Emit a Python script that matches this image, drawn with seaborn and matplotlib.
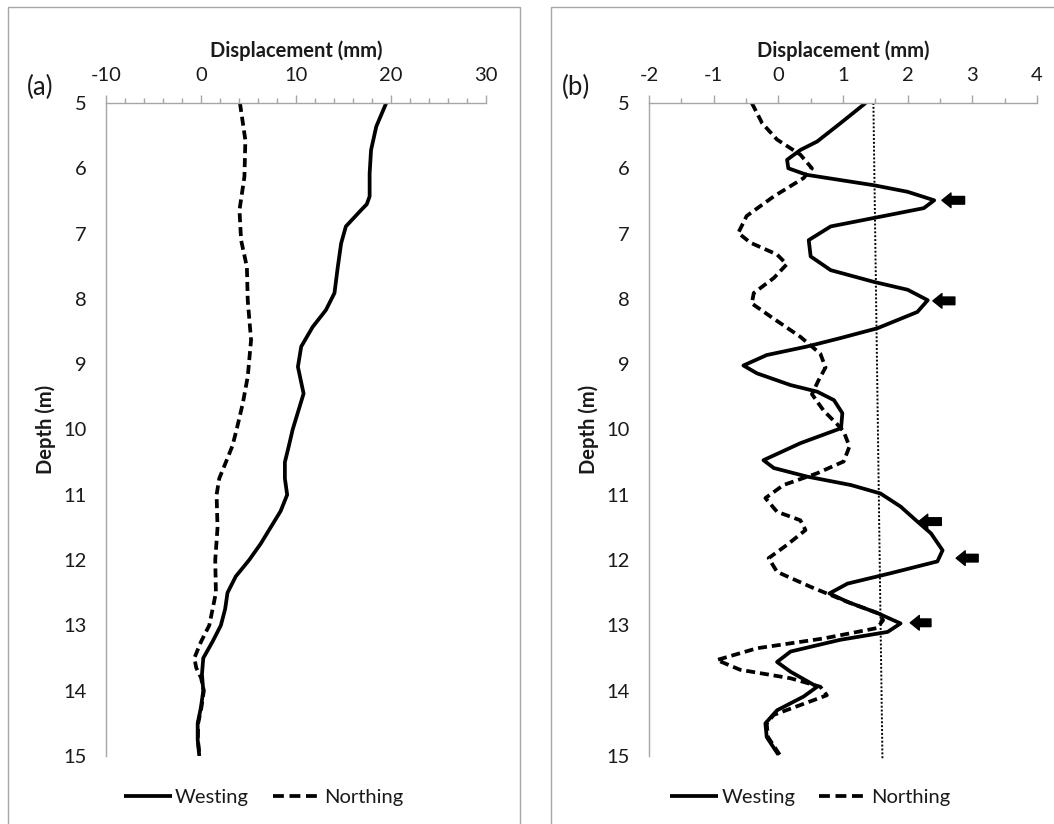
import matplotlib
matplotlib.use("Agg")
import matplotlib.pyplot as plt
import seaborn as sns
from matplotlib.patches import Rectangle
from matplotlib.ticker import MultipleLocator

# ---------------- data ----------------
# Panel (a)
depth_a_west = [5.0, 5.36, 5.72, 6.08, 6.43, 6.55, 6.64, 6.89, 7.15, 7.51, 7.91, 8.17, 8.43, 8.73, 9.04, 9.45, 10.0,
                10.25, 10.5, 10.75, 11.0, 11.25, 11.5, 11.75, 12.0, 12.25, 12.5, 12.75, 13.0, 13.25, 13.5, 13.75,
                14.0, 14.25, 14.5, 14.75, 15.0]
west_a = [19.5, 18.45, 17.9, 17.75, 17.75, 17.45, 16.85, 15.25, 14.75, 14.4, 14.05, 13.15, 11.75, 10.55, 10.2, 10.8, 9.65,
          9.25, 8.83, 8.83, 9.07, 8.38, 7.33, 6.28, 5.06, 3.66, 2.79, 2.54, 2.09, 1.21, 0.24, 0.1,
          0.24, 0.0, -0.35, -0.35, -0.18]
depth_a_north = [5.0, 5.57, 6.13, 6.64, 7.10, 7.51, 8.02, 8.63, 9.19, 9.60, 10.0, 10.25, 10.5, 10.75, 11.0, 11.5,
                 12.0, 12.5, 13.0, 13.25, 13.5, 13.65, 13.8, 14.0, 14.25, 14.5, 14.75, 15.0]
north_a = [4.1, 4.67, 4.57, 4.05, 4.22, 4.83, 4.92, 5.27, 4.92, 4.4, 3.75, 3.31, 2.62, 1.92, 1.64, 1.74,
           1.5, 1.57, 0.87, 0.0, -0.7, -0.5, 0.0, 0.3, 0.05, -0.3, -0.33, -0.15]

# Panel (b)
depth_b_west = [5.0, 5.31, 5.59, 5.72, 5.87, 6.0, 6.10, 6.18, 6.26, 6.36, 6.49, 6.61, 6.76, 6.89, 7.10, 7.35,
                7.56, 7.74, 7.86, 8.02, 8.20, 8.45, 8.60, 8.73, 8.86, 9.02, 9.14, 9.32, 9.42, 9.55, 9.75, 9.98,
                10.21, 10.47, 10.59, 10.72, 10.85, 10.98, 11.18, 11.41, 11.59, 11.85, 12.02, 12.20, 12.36, 12.51,
                12.64, 12.81, 12.97, 13.10, 13.22, 13.40, 13.56, 13.71, 13.94, 14.09, 14.30, 14.50, 14.71, 14.98]
west_b = [1.35, 0.96, 0.60, 0.34, 0.135, 0.155, 0.44, 0.96, 1.48, 2.0, 2.41, 2.25, 1.48, 0.81, 0.47, 0.50,
          0.81, 1.48, 2.0, 2.31, 2.15, 1.53, 0.96, 0.44, -0.18, -0.54, -0.33, 0.19, 0.60, 0.86, 0.99, 0.97,
          0.34, -0.23, -0.07, 0.44, 1.12, 1.58, 1.89, 2.15, 2.36, 2.54, 2.46, 1.74, 1.07, 0.79,
          1.07, 1.53, 1.89, 1.69, 0.96, 0.19, -0.02, 0.19, 0.60, 0.39, -0.02, -0.20, -0.18, 0.0]
depth_b_north = [5.0, 5.31, 5.56, 5.79, 6.0, 6.15, 6.43, 6.73, 6.99, 7.14, 7.32, 7.47, 7.68, 7.91, 8.07, 8.27,
                 8.58, 8.84, 9.05, 9.25, 9.46, 9.71, 9.92, 10.03, 10.26, 10.49, 10.67, 10.85, 11.05, 11.26, 11.39,
                 11.54, 11.77, 11.97, 12.18, 12.41, 12.66, 12.81, 12.92, 13.04, 13.20, 13.35, 13.53, 13.68, 13.81,
                 13.94, 14.07, 14.22, 14.37, 14.50, 14.71, 14.98]
north_b = [-0.41, -0.25, -0.02, 0.34, 0.52, 0.39, -0.07, -0.49, -0.62, -0.43, -0.02, 0.13, -0.07, -0.38, -0.41,
           -0.12, 0.34, 0.65, 0.73, 0.62, 0.52, 0.70, 0.91, 1.01, 1.10, 1.01, 0.60, 0.08, -0.20, -0.02, 0.34,
           0.42, 0.13, -0.15, -0.02, 0.50, 1.12, 1.53, 1.62, 1.53, 0.70, -0.33, -0.95, -0.59, 0.19,
           0.65, 0.75, 0.34, -0.07, -0.18, -0.16, 0.02]

# dotted reference line in (b)
ref_x = [1.47, 1.61]
ref_depth = [5.0, 15.05]

# arrows in (b): tip x, tail x, depth
arrow_tip = [2.53, 2.39, 2.17, 2.75, 2.04]
arrow_tail = [2.88, 2.73, 2.52, 3.09, 2.36]
arrow_depth = [6.49, 8.03, 11.41, 11.97, 12.96]

xticks_a = [-10, 0, 10, 20, 30]
xticks_b = [-2, -1, 0, 1, 2, 3, 4]
yticks = [5, 6, 7, 8, 9, 10, 11, 12, 13, 14, 15]

# ---------------- style ----------------
sns.set_style("white")
plt.rcParams['font.family'] = ['Lato', 'DejaVu Sans']

W, H = 1054, 824
fig = plt.figure(figsize=(W / 100, H / 100), dpi=100)

GRAY = "#a6a6a6"
TXT = "#1a1a1a"

# outer boxes
fig.patches.append(Rectangle((8 / W, -0.01), (520 - 8) / W, 1 - 7 / H + 0.01, transform=fig.transFigure,
                             fill=False, edgecolor=GRAY, lw=1.0))
fig.patches.append(Rectangle((551 / W, -0.01), (1060 - 551) / W, 1 - 7 / H + 0.01, transform=fig.transFigure,
                             fill=False, edgecolor=GRAY, lw=1.0))

bottom = 1 - 756 / H
top = 1 - 103 / H
ax_a = fig.add_axes([106 / W, bottom, (486 - 106) / W, top - bottom])
ax_b = fig.add_axes([649 / W, bottom, (1037 - 649) / W, top - bottom])

LW = 2.7
DASH = (2.4, 1.3)
FS = 14.5


def style_axis(ax, xlim, xticks, xminor, tag, tagx):
    ax.set_ylim(15, 5)
    ax.set_xlim(*xlim)
    ax.set_xticks(xticks)
    ax.xaxis.set_minor_locator(MultipleLocator(xminor))
    ax.set_yticks(yticks)
    ax.yaxis.set_minor_locator(MultipleLocator(0.5))
    ax.set_yticklabels([str(v) for v in yticks])
    ax.set_xticklabels([str(v) for v in xticks])
    ax.xaxis.set_ticks_position('top')
    ax.xaxis.set_label_position('top')
    for s in ['right', 'bottom']:
        ax.spines[s].set_visible(False)
    for s in ['left', 'top']:
        ax.spines[s].set_color(GRAY)
        ax.spines[s].set_linewidth(1.0)
    ax.tick_params(axis='x', which='major', direction='out', length=6, width=1, color=GRAY,
                   labelsize=FS, pad=7.5, labelcolor=TXT)
    ax.tick_params(axis='x', which='minor', direction='out', length=3.5, width=1, color=GRAY)
    ax.tick_params(axis='y', which='major', direction='out', length=5, width=1, color=GRAY,
                   labelsize=FS, pad=9, labelcolor=TXT)
    ax.tick_params(axis='y', which='minor', direction='out', length=5, width=1, color=GRAY)
    ax.set_xlabel("Displacement (mm)", fontsize=FS, fontweight='bold', labelpad=7.5, color=TXT)
    ax.set_ylabel("Depth (m)", fontsize=FS, fontweight='bold', labelpad=5, color=TXT)
    ax.text(tagx, 1.005, tag, transform=ax.transAxes, fontsize=18.5, ha='left', va='bottom', color=TXT)
    ax.grid(False)
    ax.set_facecolor('white')


# ---- panel (a)
sns.lineplot(x=west_a, y=depth_a_west, orient='y', sort=False, estimator=None, ax=ax_a,
             color='black', lw=LW, label='Westing')
sns.lineplot(x=north_a, y=depth_a_north, orient='y', sort=False, estimator=None, ax=ax_a,
             color='black', lw=LW, label='Northing')
style_axis(ax_a, (-10, 30), xticks_a, 2, "(a)", -0.208)

# ---- panel (b)
sns.lineplot(x=west_b, y=depth_b_west, orient='y', sort=False, estimator=None, ax=ax_b,
             color='black', lw=LW, label='Westing')
sns.lineplot(x=north_b, y=depth_b_north, orient='y', sort=False, estimator=None, ax=ax_b,
             color='black', lw=LW, label='Northing')
ax_b.plot(ref_x, ref_depth, color='black', lw=1.4, linestyle=(0, (1, 1)), clip_on=False)
style_axis(ax_b, (-2, 4), xticks_b, 0.5, "(b)", -0.224)

for ax in (ax_a, ax_b):
    for i, ln in enumerate(ax.lines[:2]):
        ln.set_solid_joinstyle('round')
        ln.set_dash_joinstyle('round')
        ln.set_solid_capstyle('butt')
        if i == 1:
            ln.set_dashes(DASH)

for tx, sx, d in zip(arrow_tip, arrow_tail, arrow_depth):
    ax_b.annotate('', xy=(tx, d), xytext=(sx, d),
                  arrowprops=dict(arrowstyle='simple,head_length=0.65,head_width=1.05,tail_width=0.55',
                                  color='black', mutation_scale=10, shrinkA=0, shrinkB=0))

for ax in (ax_a, ax_b):
    h, l = ax.get_legend_handles_labels()
    leg = ax.legend(h[:2], l[:2], loc='center', bbox_to_anchor=(0.415, -0.064), ncol=2, frameon=False,
                    fontsize=FS, handlelength=2.4, columnspacing=1.2, handletextpad=0.15)
    leg.get_lines()[1].set_dashes((2.9, 1.5))
    for t in leg.get_texts():
        t.set_color(TXT)

fig.savefig("out.png", dpi=100, facecolor='white')
